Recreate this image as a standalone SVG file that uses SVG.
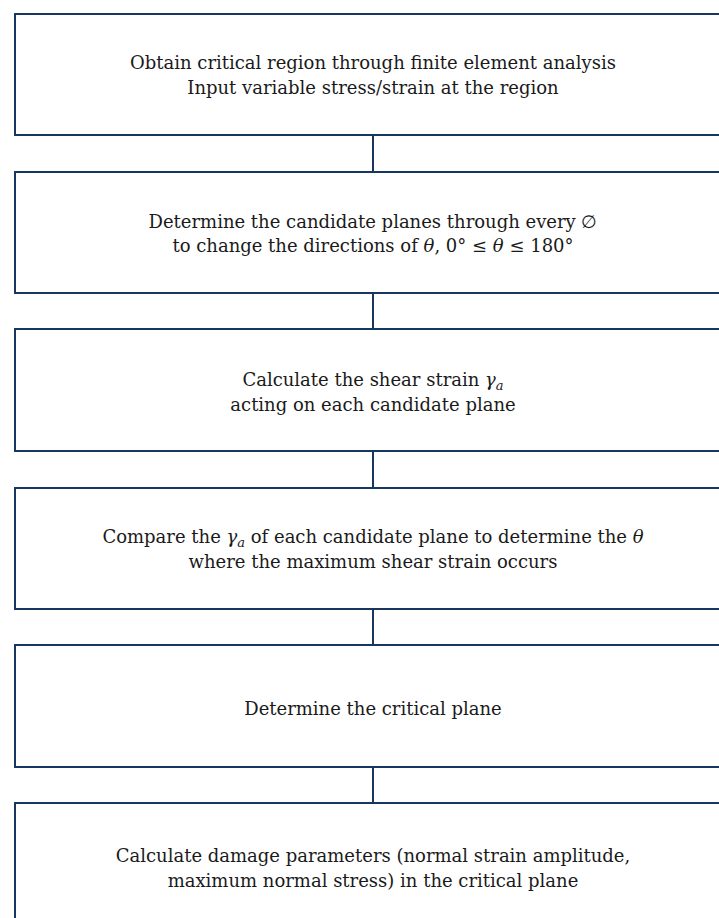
<svg xmlns="http://www.w3.org/2000/svg" width="719" height="918" viewBox="0 0 719 918">
<style>
.box{fill:#fff;stroke:#17375e;stroke-width:2}
.con{stroke:#17375e;stroke-width:2;fill:none}
text{font-family:"DejaVu Serif","Liberation Serif",serif;font-size:18px;fill:#1a1a1a;text-anchor:middle}
.i{font-style:italic}
.sub{font-size:13px;font-style:italic}
</style>
<rect width="719" height="918" fill="#fff"/>
<g id="connectors">
<line class="con" x1="373" y1="135" x2="373" y2="172"/>
<line class="con" x1="373" y1="293" x2="373" y2="329"/>
<line class="con" x1="373" y1="451" x2="373" y2="488"/>
<line class="con" x1="373" y1="609" x2="373" y2="645"/>
<line class="con" x1="373" y1="767" x2="373" y2="803"/>
</g>
<g id="n1"><rect class="box" x="15" y="14" width="716" height="121"/>
<text x="373" y="69">Obtain critical region through finite element analysis</text>
<text x="373" y="94">Input variable stress/strain at the region</text></g>
<g id="n2"><rect class="box" x="15" y="172" width="716" height="121"/>
<text x="373" y="228">Determine the candidate planes through every ∅</text>
<text x="373" y="252">to change the directions of <tspan class="i">θ</tspan>, 0° ≤ <tspan class="i">θ</tspan> ≤ 180°</text></g>
<g id="n3"><rect class="box" x="15" y="329" width="716" height="122"/>
<text x="373" y="386">Calculate the shear strain <tspan class="i">γ</tspan><tspan class="sub" dy="4">a</tspan></text>
<text x="373" y="411">acting on each candidate plane</text></g>
<g id="n4"><rect class="box" x="15" y="488" width="716" height="121"/>
<text x="373" y="543">Compare the <tspan class="i">γ</tspan><tspan class="sub" dy="4">a</tspan><tspan dy="-4"> of each candidate plane to determine the </tspan><tspan class="i">θ</tspan></text>
<text x="373" y="568">where the maximum shear strain occurs</text></g>
<g id="n5"><rect class="box" x="15" y="645" width="716" height="122"/>
<text x="373" y="715">Determine the critical plane</text></g>
<g id="n6"><rect class="box" x="15" y="803" width="716" height="130"/>
<text x="373" y="862">Calculate damage parameters (normal strain amplitude,</text>
<text x="373" y="887">maximum normal stress) in the critical plane</text></g>
</svg>
